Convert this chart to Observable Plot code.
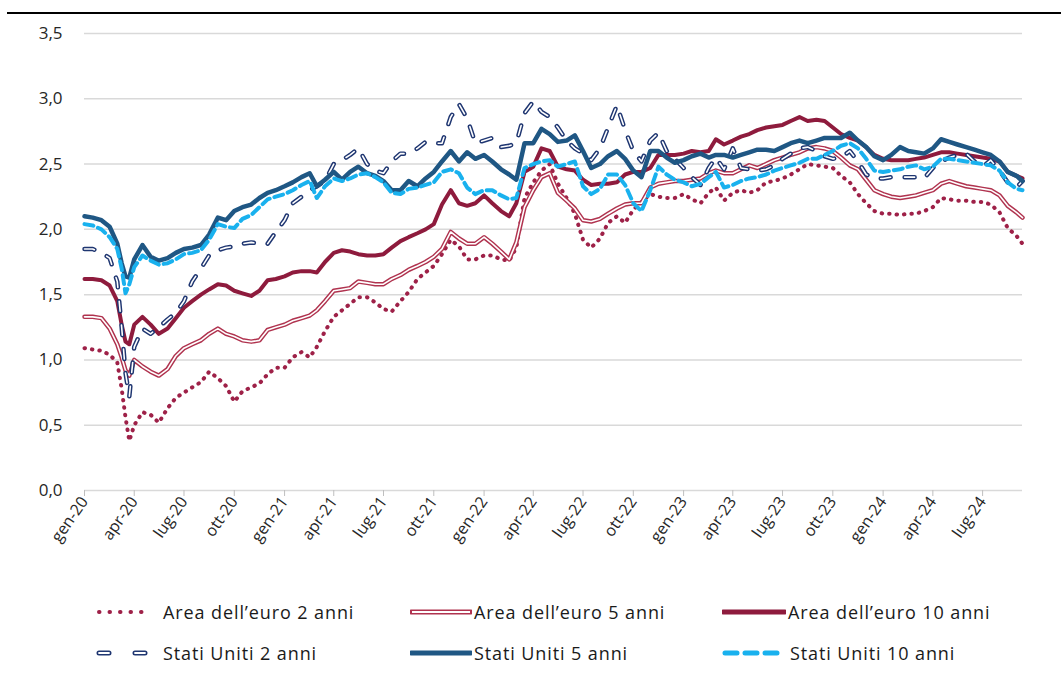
<!DOCTYPE html>
<html><head><meta charset="utf-8">
<script src="https://cdn.jsdelivr.net/npm/d3@7"></script>
<script src="https://cdn.jsdelivr.net/npm/@observablehq/plot@0.6"></script>
<style>
body{margin:0;background:#fff;font-family:"Open Sans",sans-serif;}
#wrap{position:relative;width:1061px;height:679px;overflow:hidden;}
#topline{position:absolute;left:7px;top:12px;width:1054px;height:2px;background:#000;}
#chart{position:absolute;left:0;top:0;}
.leg{position:absolute;font-size:18px;letter-spacing:0.9px;color:#1a1a1a;white-space:nowrap;display:flex;align-items:center;height:24px;}
.leg svg{display:block;}
</style></head><body>
<div id="wrap"><div id="chart"></div><div id="topline"></div><div id="legend"></div></div>
<script>
const dates = ["2020-01-01","2020-01-16","2020-02-01","2020-02-16","2020-03-01","2020-03-09","2020-03-16","2020-03-23","2020-04-01","2020-04-16","2020-05-01","2020-05-16","2020-06-01","2020-06-16","2020-07-01","2020-07-16","2020-08-01","2020-08-16","2020-09-01","2020-09-16","2020-10-01","2020-10-16","2020-11-01","2020-11-16","2020-12-01","2020-12-16",
"2021-01-01","2021-01-16","2021-02-01","2021-02-16","2021-03-01","2021-03-16","2021-04-01","2021-04-16","2021-05-01","2021-05-16","2021-06-01","2021-06-16","2021-07-01","2021-07-16","2021-08-01","2021-08-16","2021-09-01","2021-09-16","2021-10-01","2021-10-16","2021-11-01","2021-11-16","2021-12-01","2021-12-16",
"2022-01-01","2022-01-16","2022-02-01","2022-02-16","2022-03-01","2022-03-16","2022-04-01","2022-04-16","2022-05-01","2022-05-16","2022-06-01","2022-06-16","2022-07-01","2022-07-16","2022-08-01","2022-08-16","2022-09-01","2022-09-16","2022-10-01","2022-10-16","2022-11-01","2022-11-16","2022-12-01","2022-12-16",
"2023-01-01","2023-01-16","2023-02-01","2023-02-16","2023-03-01","2023-03-16","2023-04-01","2023-04-16","2023-05-01","2023-05-16","2023-06-01","2023-06-16","2023-07-01","2023-07-16","2023-08-01","2023-08-16","2023-09-01","2023-09-16","2023-10-01","2023-10-16","2023-11-01","2023-11-16","2023-12-01","2023-12-16",
"2024-01-01","2024-01-16","2024-02-01","2024-02-16","2024-03-01","2024-03-16","2024-04-01","2024-04-16","2024-05-01","2024-05-16","2024-06-01","2024-06-16","2024-07-01","2024-07-16","2024-08-01","2024-08-16","2024-09-01","2024-09-12"];

const euro2 = [1.09,1.08,1.07,1.04,0.98,0.78,0.56,0.38,0.50,0.60,0.58,0.52,0.63,0.71,0.75,0.79,0.83,0.91,0.86,0.80,0.68,0.76,0.79,0.82,0.89,0.94,
0.94,1.02,1.06,1.02,1.10,1.22,1.33,1.38,1.43,1.48,1.48,1.44,1.39,1.37,1.45,1.52,1.62,1.67,1.72,1.81,1.92,1.87,1.77,1.77,
1.80,1.80,1.77,1.76,1.86,2.24,2.36,2.45,2.50,2.35,2.24,2.12,1.92,1.86,1.93,2.05,2.10,2.05,2.15,2.21,2.27,2.25,2.24,2.24,
2.27,2.23,2.20,2.28,2.32,2.22,2.28,2.30,2.28,2.30,2.36,2.37,2.39,2.42,2.46,2.50,2.49,2.48,2.47,2.41,2.36,2.27,2.20,2.14,
2.12,2.12,2.11,2.12,2.12,2.14,2.17,2.24,2.23,2.22,2.22,2.21,2.21,2.19,2.13,2.01,1.95,1.89];

const euro5 = [1.33,1.33,1.32,1.24,1.12,1.02,0.92,0.88,1.00,0.95,0.91,0.88,0.93,1.03,1.09,1.12,1.15,1.20,1.24,1.20,1.18,1.15,1.14,1.15,1.23,1.25,
1.27,1.30,1.32,1.34,1.38,1.45,1.53,1.54,1.55,1.60,1.59,1.58,1.58,1.62,1.65,1.69,1.72,1.75,1.79,1.85,1.98,1.93,1.89,1.89,
1.94,1.89,1.83,1.77,1.90,2.17,2.30,2.40,2.43,2.28,2.22,2.16,2.07,2.06,2.08,2.12,2.16,2.19,2.20,2.20,2.32,2.35,2.36,2.37,
2.37,2.38,2.39,2.43,2.45,2.43,2.43,2.46,2.49,2.47,2.50,2.53,2.55,2.57,2.59,2.62,2.63,2.62,2.60,2.55,2.49,2.46,2.38,2.30,
2.27,2.25,2.24,2.25,2.26,2.28,2.30,2.35,2.37,2.35,2.33,2.32,2.31,2.30,2.26,2.18,2.13,2.09];

const euro10 = [1.62,1.62,1.61,1.57,1.45,1.27,1.14,1.12,1.27,1.33,1.27,1.20,1.24,1.32,1.40,1.45,1.50,1.54,1.58,1.57,1.53,1.51,1.49,1.53,1.61,1.62,
1.64,1.67,1.68,1.68,1.67,1.75,1.82,1.84,1.83,1.81,1.80,1.80,1.81,1.86,1.91,1.94,1.97,2.00,2.04,2.19,2.30,2.20,2.18,2.20,
2.26,2.20,2.14,2.10,2.20,2.44,2.48,2.62,2.60,2.48,2.46,2.45,2.38,2.34,2.35,2.35,2.36,2.42,2.44,2.44,2.47,2.57,2.57,2.57,
2.58,2.60,2.59,2.60,2.69,2.65,2.68,2.71,2.73,2.76,2.78,2.79,2.80,2.83,2.86,2.83,2.84,2.83,2.78,2.73,2.70,2.68,2.63,2.57,
2.54,2.53,2.53,2.53,2.54,2.55,2.57,2.59,2.59,2.58,2.57,2.56,2.55,2.54,2.52,2.44,2.41,2.39];

const us2 = [1.85,1.85,1.82,1.78,1.60,1.25,0.90,0.72,1.10,1.24,1.20,1.25,1.31,1.36,1.45,1.60,1.70,1.80,1.84,1.86,1.87,1.89,1.90,1.89,1.89,1.98,
2.07,2.20,2.25,2.30,2.33,2.37,2.50,2.53,2.57,2.62,2.50,2.45,2.43,2.52,2.58,2.58,2.62,2.67,2.66,2.66,2.86,2.96,2.85,2.66,
2.68,2.70,2.63,2.64,2.66,2.89,2.98,2.90,2.86,2.78,2.68,2.62,2.58,2.53,2.62,2.78,2.95,2.76,2.60,2.52,2.68,2.74,2.60,2.54,
2.47,2.40,2.34,2.47,2.55,2.46,2.62,2.47,2.46,2.45,2.46,2.49,2.54,2.58,2.62,2.63,2.60,2.56,2.54,2.55,2.60,2.52,2.42,2.39,
2.39,2.40,2.40,2.40,2.40,2.39,2.47,2.52,2.55,2.57,2.58,2.52,2.48,2.53,2.45,2.36,2.32,2.37];

const us5 = [2.10,2.09,2.07,2.02,1.89,1.74,1.64,1.63,1.77,1.88,1.79,1.76,1.78,1.82,1.85,1.86,1.88,1.96,2.09,2.07,2.14,2.17,2.19,2.24,2.28,2.30,
2.33,2.36,2.40,2.43,2.33,2.38,2.44,2.38,2.44,2.48,2.43,2.41,2.37,2.30,2.30,2.37,2.33,2.39,2.44,2.52,2.60,2.52,2.59,2.54,
2.57,2.52,2.46,2.42,2.38,2.66,2.66,2.77,2.73,2.67,2.68,2.72,2.60,2.47,2.50,2.56,2.60,2.54,2.45,2.40,2.60,2.60,2.55,2.51,
2.53,2.56,2.58,2.55,2.57,2.57,2.55,2.57,2.59,2.61,2.61,2.60,2.63,2.66,2.68,2.66,2.68,2.70,2.70,2.70,2.74,2.68,2.63,2.56,
2.53,2.57,2.63,2.60,2.59,2.58,2.62,2.69,2.67,2.65,2.63,2.61,2.59,2.57,2.52,2.44,2.41,2.37];

const us10 = [2.04,2.03,2.00,1.94,1.85,1.70,1.51,1.58,1.71,1.80,1.76,1.73,1.74,1.77,1.81,1.82,1.84,1.92,2.04,2.02,2.01,2.08,2.11,2.17,2.23,2.25,
2.27,2.30,2.34,2.37,2.24,2.33,2.39,2.37,2.39,2.42,2.43,2.40,2.36,2.28,2.27,2.31,2.32,2.34,2.36,2.44,2.46,2.43,2.32,2.27,
2.30,2.30,2.26,2.23,2.24,2.47,2.50,2.52,2.53,2.48,2.50,2.52,2.33,2.27,2.31,2.42,2.42,2.34,2.20,2.14,2.30,2.48,2.42,2.38,
2.36,2.33,2.35,2.40,2.44,2.32,2.34,2.37,2.39,2.40,2.42,2.45,2.47,2.49,2.51,2.54,2.54,2.57,2.60,2.64,2.66,2.62,2.54,2.45,
2.44,2.45,2.46,2.48,2.49,2.46,2.48,2.54,2.54,2.53,2.52,2.51,2.50,2.49,2.45,2.36,2.31,2.30];

const xTicks = ["2020-01-01","2020-04-01","2020-07-01","2020-10-01","2021-01-01","2021-04-01","2021-07-01","2021-10-01","2022-01-01","2022-04-01","2022-07-01","2022-10-01","2023-01-01","2023-04-01","2023-07-01","2023-10-01","2024-01-01","2024-04-01","2024-07-01"];
const monthNames = ["gen","feb","mar","apr","mag","giu","lug","ago","set","ott","nov","dic"];
const yTicks = [0,0.5,1,1.5,2,2.5,3,3.5];

const seriesNames = ["Area dell\u2019euro 2 anni","Area dell\u2019euro 5 anni","Area dell\u2019euro 10 anni","Stati Uniti 2 anni","Stati Uniti 5 anni","Stati Uniti 10 anni"];

const C_EU2 = "#9e2148", C_EU5 = "#b0334f", C_EU10 = "#8e1b3d", C_US2 = "#1f3671", C_US5 = "#1f5784", C_US10 = "#19b1ee";

const mk = arr => dates.map((d,i) => ({date: new Date(d), v: arr[i]}));
const dEU2 = mk(euro2), dEU5 = mk(euro5), dEU10 = mk(euro10), dUS2 = mk(us2), dUS5 = mk(us5), dUS10 = mk(us10);

const fmtX = d => monthNames[d.getUTCMonth()] + "-" + String(d.getUTCFullYear()).slice(2);

const chart = Plot.plot({
  width: 1061, height: 580,
  marginLeft: 84, marginRight: 39, marginTop: 33, marginBottom: 90,
  style: {fontFamily: "'Open Sans', sans-serif", fontSize: "16px", color: "#262626", background: "#fff"},
  x: {type: "utc", domain: [new Date("2020-01-01"), new Date("2024-09-12")]},
  y: {domain: [0, 3.5]},
  marks: [
    Plot.ruleY(yTicks, {stroke: "#d9d9d9", strokeWidth: 1.5}),
    Plot.axisY({ticks: yTicks, tickSize: 0, tickPadding: 22, fontSize: 17, tickFormat: d => d.toFixed(1).replace(".", ","), label: null}),
    Plot.axisX({ticks: xTicks.map(d => new Date(d)), tickFormat: fmtX, tickRotate: -55, tickSize: 6, tickPadding: 2, stroke: "#bfbfbf", fontSize: 16, label: null}),
    Plot.line(dEU2, {x: "date", y: "v", stroke: C_EU2, strokeWidth: 4, strokeDasharray: "0.5 7", strokeLinecap: "round"}),
    Plot.line(dEU5, {x: "date", y: "v", stroke: C_EU5, strokeWidth: 4.5}),
    Plot.line(dEU5, {x: "date", y: "v", stroke: "#fff", strokeWidth: 1.6}),
    Plot.line(dEU10, {x: "date", y: "v", stroke: C_EU10, strokeWidth: 4}),
    Plot.line(dUS2, {x: "date", y: "v", stroke: C_US2, strokeWidth: 4.5, strokeDasharray: "10 14", strokeLinecap: "round"}),
    Plot.line(dUS2, {x: "date", y: "v", stroke: "#fff", strokeWidth: 1.6, strokeDasharray: "10 14", strokeLinecap: "round"}),
    Plot.line(dUS5, {x: "date", y: "v", stroke: C_US5, strokeWidth: 4.5}),
    Plot.line(dUS10, {x: "date", y: "v", stroke: C_US10, strokeWidth: 4, strokeDasharray: "9 5"})
  ]
});
document.getElementById("chart").appendChild(chart);

// Legend
const legendItems = [
  {name: seriesNames[0], left: 97, top: 600, w: 56, gap: 10, svg: `<line x1="2" y1="6" x2="54" y2="6" stroke="${C_EU2}" stroke-width="4" stroke-dasharray="0.5 10" stroke-linecap="round"/>`},
  {name: seriesNames[1], left: 410, top: 600, w: 62, gap: 2, svg: `<line x1="1" y1="6" x2="61" y2="6" stroke="${C_EU5}" stroke-width="5" stroke-linecap="round"/><line x1="2" y1="6" x2="60" y2="6" stroke="#fff" stroke-width="1.8"/>`},
  {name: seriesNames[2], left: 722, top: 600, w: 64, gap: 2, svg: `<line x1="1" y1="6" x2="63" y2="6" stroke="${C_EU10}" stroke-width="5" stroke-linecap="round"/>`},
  {name: seriesNames[3], left: 96, top: 641, w: 57, gap: 10, svg: `<line x1="3" y1="6" x2="55" y2="6" stroke="${C_US2}" stroke-width="5" stroke-dasharray="10 26" stroke-linecap="round"/><line x1="3" y1="6" x2="55" y2="6" stroke="#fff" stroke-width="1.8" stroke-dasharray="10 26" stroke-linecap="round"/>`},
  {name: seriesNames[4], left: 410, top: 641, w: 62, gap: 2, svg: `<line x1="1" y1="6" x2="61" y2="6" stroke="${C_US5}" stroke-width="5" stroke-linecap="round"/>`},
  {name: seriesNames[5], left: 722, top: 641, w: 60, gap: 8, svg: `<line x1="3" y1="6" x2="56" y2="6" stroke="${C_US10}" stroke-width="5" stroke-dasharray="12 8" stroke-linecap="round"/>`}
];
const legend = document.getElementById("legend");
for (const it of legendItems) {
  const div = document.createElement("div");
  div.className = "leg";
  div.style.left = it.left + "px";
  div.style.top = it.top + "px";
  div.innerHTML = `<svg width="${it.w}" height="12" style="margin-right:${it.gap}px">${it.svg}</svg><span>${it.name}</span>`;
  legend.appendChild(div);
}
</script>
</body></html>
